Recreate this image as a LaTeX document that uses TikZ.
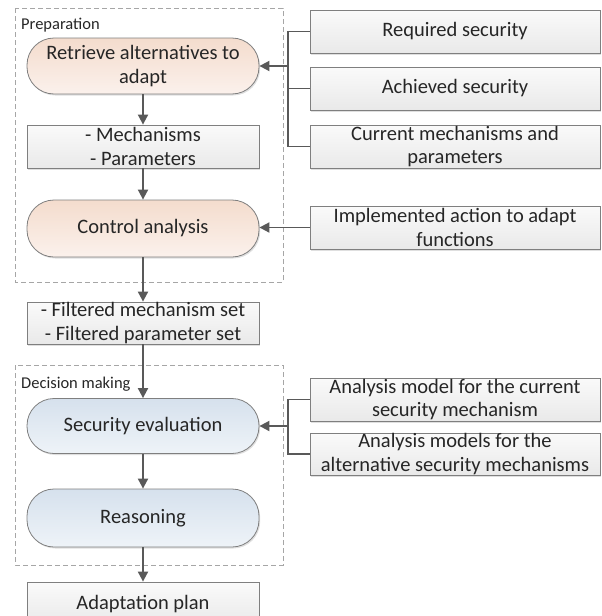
\documentclass[tikz,border=0pt]{standalone}
\usepackage{fontspec}
\setmainfont{Carlito}
\usetikzlibrary{arrows.meta,shadows}
\definecolor{peachT}{HTML}{F4DCCD}
\definecolor{peachB}{HTML}{FBF1EC}
\definecolor{blueT}{HTML}{D6E1ED}
\definecolor{blueB}{HTML}{EEF3F8}
\definecolor{boxT}{HTML}{FAFAFA}
\definecolor{boxB}{HTML}{E9E9E9}
\definecolor{edge}{HTML}{7F7F7F}
\definecolor{conn}{HTML}{595959}
\definecolor{dash}{HTML}{A6A6A6}
\definecolor{txt}{HTML}{262626}
\tikzset{
  base/.style={draw=edge, line width=0.8pt, align=center, text=txt,
    font=\fontsize{20.5}{23.5}\selectfont, inner sep=0pt,
    drop shadow={opacity=0.25, shadow xshift=1.2pt, shadow yshift=-1.5pt}},
  stadium/.style={base, rounded corners=27pt, minimum width=232pt},
  peach/.style={stadium, top color=peachT, bottom color=peachB},
  bluish/.style={stadium, top color=blueT, bottom color=blueB},
  rbox/.style={base, rectangle, top color=boxT, bottom color=boxB},
  leftbox/.style={rbox, minimum width=232pt},
  rightbox/.style={rbox, minimum width=290pt, minimum height=43pt},
  conn/.style={draw=conn, line width=1.8pt},
  arr/.style={conn, -{Triangle[length=10pt,width=10pt]}},
  group/.style={draw=dash, line width=0.7pt, dash pattern=on 5pt off 3pt},
  grouplabel/.style={anchor=west, text=txt, font=\fontsize{16.5}{19}\selectfont, inner sep=0pt}
}
\begin{document}
\begin{tikzpicture}[x=1pt,y=-1pt]
\useasboundingbox (0,0) rectangle (602,616);
\clip (0,0) rectangle (602,616);
% group frames
\draw[group] (15,8) rectangle (283,282);
\node[grouplabel] (lprep) at (21,25) {Preparation};
\draw[group] (15,365) rectangle (283,565);
\node[grouplabel] (ldec) at (21,384) {Decision making};
% left column
\node[peach, minimum height=56pt] (ret) at (143,66) {Retrieve alternatives to\\adapt};
\node[leftbox, minimum height=43pt] (mech) at (143,146.5) {- Mechanisms\\- Parameters};
\node[peach, minimum height=57pt] (ctrl) at (143,228.5) {Control analysis};
\node[leftbox, minimum height=42pt] (filt) at (143,323) {- Filtered mechanism set\\- Filtered parameter set};
\node[bluish, minimum height=55pt] (sec) at (143,426) {Security evaluation};
\node[bluish, minimum height=58pt] (rea) at (143,518) {Reasoning};
\node[leftbox, minimum height=44pt] (plan) at (143,604) {Adaptation plan};
% right column
\node[rightbox] (req) at (455,31.5) {Required security};
\node[rightbox] (ach) at (455,88.5) {Achieved security};
\node[rightbox] (cur) at (455,146.5) {Current mechanisms and\\parameters};
\node[rightbox] (impl) at (455,227.5) {Implemented action to adapt\\functions};
\node[rightbox] (acur) at (455,399.5) {Analysis model for the current\\security mechanism};
\node[rightbox, minimum height=42pt] (aalt) at (455,454) {Analysis models for the\\alternative security mechanisms};
% vertical flow
\draw[arr] (ret) -- (mech);
\draw[arr] (mech) -- (ctrl);
\draw[arr] (ctrl) -- (filt);
\draw[arr] (filt) -- (sec);
\draw[arr] (sec) -- (rea);
\draw[arr] (rea) -- (plan);
% brackets
\coordinate (j1) at (288,66);
\draw[conn, line width=1.5pt] (req.west) -| (j1);
\draw[conn, line width=1.5pt] (cur.west) -| (j1);
\draw[conn, line width=1.5pt] (ach.west) -- (ach.west -| j1);
\draw[arr] (j1) -- (ret.east);
\draw[arr] (impl.west) -- (ctrl.east |- impl.west);
\coordinate (j2) at (288,426);
\draw[conn, line width=1.5pt] (acur.west) -| (j2);
\draw[conn, line width=1.5pt] (aalt.west) -| (j2);
\draw[arr] (j2) -- (sec.east);
\end{tikzpicture}
\end{document}
